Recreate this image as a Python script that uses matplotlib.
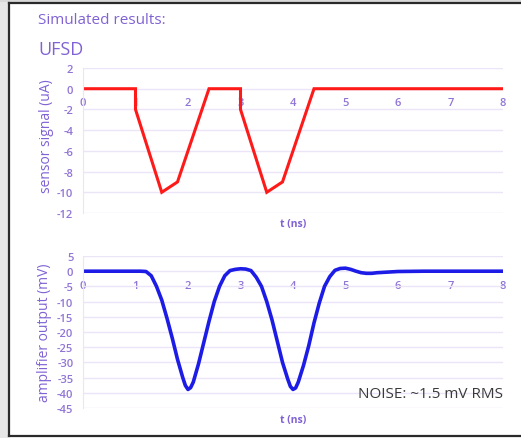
import matplotlib.pyplot as plt
from matplotlib.lines import Line2D
from matplotlib.patches import Rectangle

W, H = 521, 439

# sensor current (uA) vs time (ns)
t_sensor = [0, 1, 1, 1.5, 1.8, 2.4, 3, 3, 3.5, 3.8, 4.4, 8]
i_sensor = [0, 0, -2, -10, -9, 0, 0, -2, -10, -9, 0, 0]

# amplifier output (mV) vs time (ns)
t_amp = [0, 0.5, 1.0, 1.1, 1.2, 1.3, 1.4, 1.5, 1.6, 1.7, 1.8, 1.9, 1.95, 2.0, 2.05,
         2.1, 2.2, 2.3, 2.4, 2.5, 2.6, 2.7, 2.8, 2.9, 3.0, 3.1, 3.2, 3.3, 3.4,
         3.5, 3.6, 3.7, 3.8, 3.9, 3.95, 4.0, 4.05, 4.1, 4.2, 4.3, 4.4, 4.5, 4.6,
         4.7, 4.8, 4.9, 5.0, 5.1, 5.2, 5.3, 5.4, 5.5, 5.6, 5.8, 6.0, 6.5, 7.0, 8.0]
v_amp = [0, 0, 0, 0, -0.1, -1.5, -5, -9.5, -15.5, -22, -29, -35, -37.6, -38.9, -38.3,
         -36.5, -30.5, -23.5, -16.5, -10, -5, -1.5, 0.2, 0.6, 0.8, 0.7, 0.2, -2, -5,
         -10, -16, -23, -30, -35.5, -37.9, -38.9, -38.4, -36.5, -31, -24.5, -17, -10.5, -5,
         -1.8, 0.3, 0.9, 1.0, 0.6, 0.0, -0.5, -0.7, -0.7, -0.5, -0.3, -0.1, 0, 0, 0]

x_ticks = [0, 1, 2, 3, 4, 5, 6, 7, 8]
y_ticks_top = [2, 0, -2, -4, -6, -8, -10, -12]
y_ticks_bot = [5, 0, -5, -10, -15, -20, -25, -30, -35, -40, -45]

purple = '#8062d4'
tickc = '#9074d6'
gridc = '#ebe5f8'

plt.rcParams['font.family'] = ['Open Sans', 'DejaVu Sans']
plt.rcParams['axes.unicode_minus'] = False

fig = plt.figure(figsize=(W / 100, H / 100), dpi=100)
fig.patch.set_facecolor('white')

# slide frame
fig.patches.append(Rectangle((0, 0), 8.0 / W, 1, transform=fig.transFigure,
                             facecolor='#e6e6e6', edgecolor='none', zorder=-5))
fig.patches.append(Rectangle((0, 1 - 3.0 / H), 1, 3.0 / H, transform=fig.transFigure,
                             facecolor='#d8d8d8', edgecolor='none', zorder=-5))
fig.lines.append(Line2D([8.5 / W, 8.5 / W], [1 - 436.5 / H, 1 - 3.5 / H],
                        transform=fig.transFigure, color='#2a2a2a', lw=1.6))
fig.lines.append(Line2D([8.5 / W, 1], [1 - 3.5 / H, 1 - 3.5 / H],
                        transform=fig.transFigure, color='#2a2a2a', lw=1.6))
fig.lines.append(Line2D([8.5 / W, 1], [1 - 436.5 / H, 1 - 436.5 / H],
                        transform=fig.transFigure, color='#2a2a2a', lw=1.6))


def px_axes(x0, y0, x1, y1):
    return fig.add_axes([x0 / W, 1 - y1 / H, (x1 - x0) / W, (y1 - y0) / H])


def style(ax, yticks, ylim):
    ax.set_xlim(0, 8)
    ax.set_ylim(*ylim)
    ax.set_xticks(x_ticks)
    ax.set_yticks(yticks)
    ax.grid(True, axis='y', color=gridc, lw=1.0)
    ax.set_axisbelow(True)
    for s in ['top', 'right']:
        ax.spines[s].set_visible(False)
    ax.spines['left'].set_color(gridc)
    ax.spines['bottom'].set_position(('data', 0))
    ax.spines['bottom'].set_color('none')
    ax.tick_params(axis='both', length=0, colors=tickc, labelsize=8)
    ax.tick_params(axis='x', pad=6)
    ax.tick_params(axis='y', pad=7)
    for lab in ax.get_xticklabels() + ax.get_yticklabels():
        lab.set_fontweight('semibold')


ax1 = px_axes(83, 69, 503, 214)
style(ax1, y_ticks_top, (-12, 2))
ax1.plot(t_sensor, i_sensor, color='#ff1a1a', lw=2.2, solid_joinstyle='miter')

ax2 = px_axes(83, 257, 503, 409)
style(ax2, y_ticks_bot, (-45, 5))
ax2.plot(t_amp, v_amp, color='#1c1ce6', lw=2.6)


def ftext(x, y, s, **kw):
    fig.text(x / W, 1 - y / H, s, **kw)


ftext(38, 20, 'Simulated results:', fontsize=11, color=purple, va='center')
ftext(38, 50, 'UFSD', fontsize=13, color=purple, va='center')
ftext(46, 136, 'sensor signal (uA)', fontsize=10, color=purple, rotation=90,
      ha='center', va='center')
ftext(45, 333, 'amplifier output (mV)', fontsize=10, color=purple, rotation=90,
      ha='center', va='center')
ftext(293, 224, 't (ns)', fontsize=7.5, color=purple, weight='bold', ha='center', va='center')
ftext(293, 421, 't (ns)', fontsize=7.5, color=purple, weight='bold', ha='center', va='center')
ftext(503, 395, 'NOISE: ~1.5 mV RMS', fontsize=11, color='#3a3a3a', ha='right', va='center')

fig.savefig('out.png', dpi=100)
